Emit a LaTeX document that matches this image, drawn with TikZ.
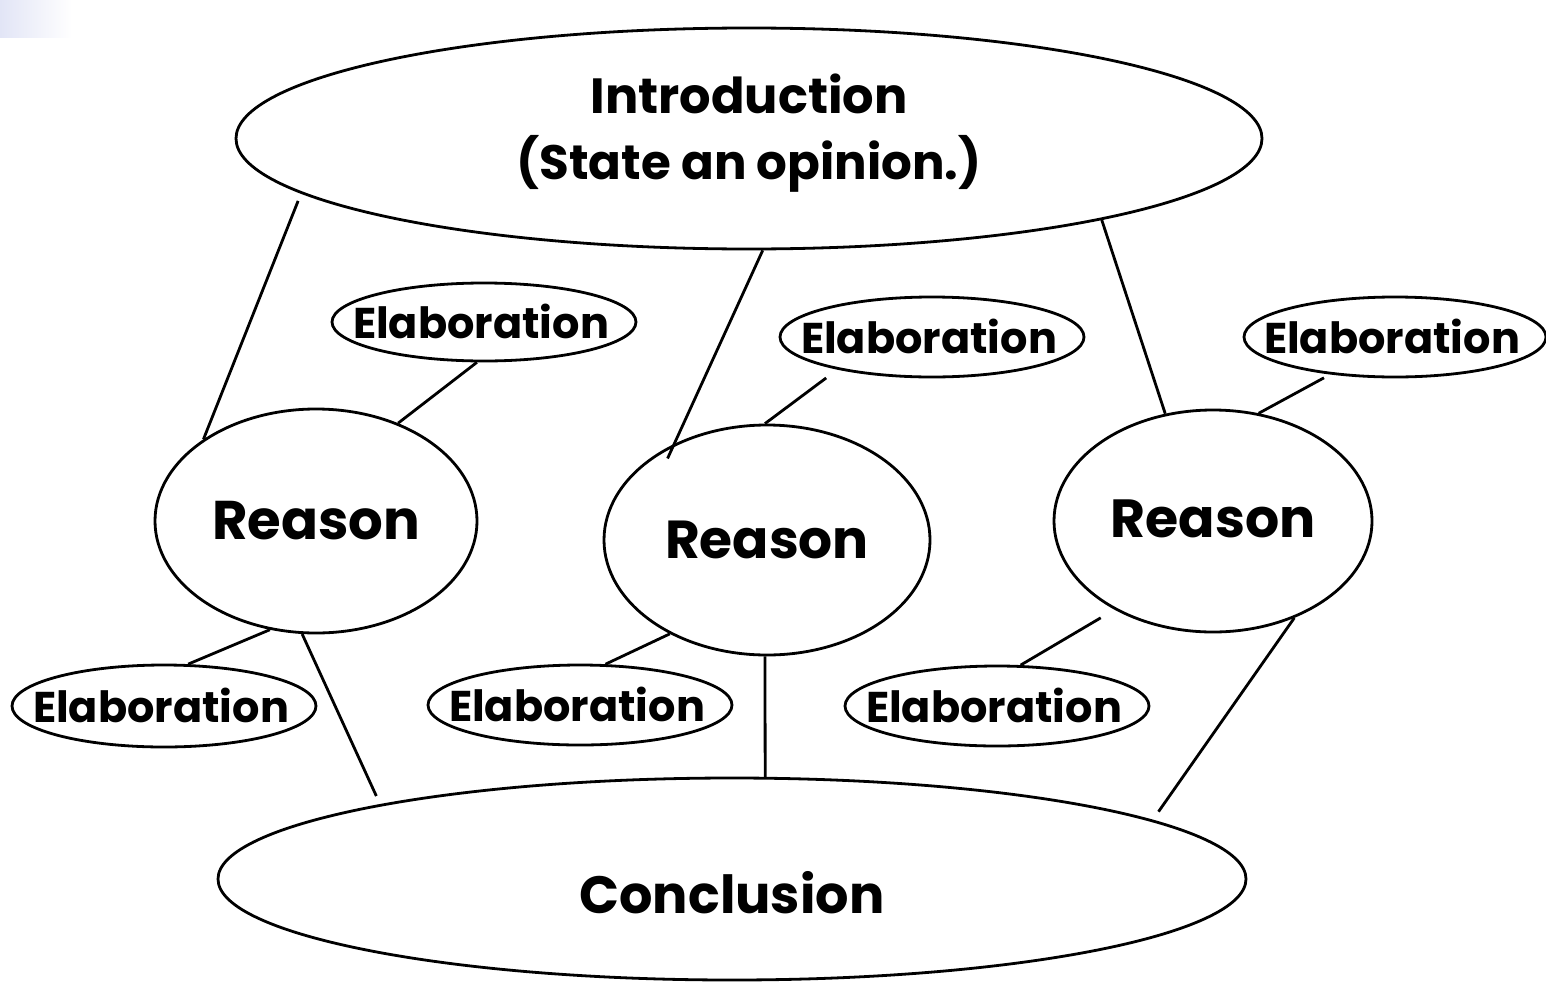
\documentclass[tikz,border=0pt]{standalone}
\usepackage{fontspec}
\setmainfont{Poppins}
\usepackage{graphicx}
\usetikzlibrary{shapes.geometric}

\definecolor{cornertint}{RGB}{226,229,246}

\tikzset{
  oval/.style={ellipse, draw=black, line width=2.8pt, inner sep=0pt, fill=white},
  link/.style={draw=black, line width=2.8pt},
  lbl/.style={inner sep=0pt, font=\bfseries\fontsize{50pt}{66pt}\selectfont, align=center},
}

% fixed-width bold labels
\newcommand{\wlabel}[2]{\resizebox{#1}{!}{\bfseries #2}}

\begin{document}
\begin{tikzpicture}[x=1pt, y=-1pt]
  \useasboundingbox (0,0) rectangle (1546,982);
  \fill[white] (0,0) rectangle (1546,982);
  \shade[left color=cornertint, right color=white] (0,0) rectangle (72,38);

  % main parts of the essay
  \node[oval, minimum width=1026pt, minimum height=221pt] (intro) at (749,138.5) {};
  \node[lbl, anchor=north] (introtext) at (749,74)
    {\wlabel{317pt}{Introduction}\\\wlabel{465pt}{(State an opinion.)}};

  \node[oval, minimum width=1028pt, minimum height=202pt] (con) at (732,879) {};
  \node[lbl] (context) at (732,893) {\wlabel{305pt}{Conclusion}};

  % reasons
  \node[oval, minimum width=322pt, minimum height=224pt] (r1) at (316,521) {};
  \node[oval, minimum width=326pt, minimum height=230pt] (r2) at (767,540) {};
  \node[oval, minimum width=318pt, minimum height=222pt] (r3) at (1213,521) {};
  \node[lbl] (r1t) at (r1) {\wlabel{208pt}{Reason}};
  \node[lbl] (r2t) at (r2) {\wlabel{204pt}{Reason}};
  \node[lbl] (r3t) at ([yshift=2pt]r3.center) {\wlabel{205pt}{Reason}};

  % elaborations
  \node[oval, minimum width=304pt, minimum height=78pt] (e1) at (484,322) {};
  \node[oval, minimum width=304pt, minimum height=80pt] (e2) at (932,337) {};
  \node[oval, minimum width=302pt, minimum height=80pt] (e3) at (1395,337) {};
  \node[oval, minimum width=304pt, minimum height=82pt] (e4) at (164,706) {};
  \node[oval, minimum width=304pt, minimum height=80pt] (e5) at (580,705) {};
  \node[oval, minimum width=304pt, minimum height=80pt] (e6) at (997,706) {};
  \foreach \e in {e1,e2,e3,e4,e5,e6}
    \node[lbl] (\e t) at ([xshift=-3pt,yshift=1pt]\e.center) {\wlabel{256pt}{Elaboration}};

  % introduction to reasons
  \draw[link, shorten <=8pt] (intro.187) -- (r1.144);
  \draw[link, shorten >=-16pt] (intro.277) -- (r2.134);
  \draw[link] (intro.347) -- (r3.114);

  % elaborations above the reasons
  \draw[link] (e1.260) -- (r1.50);
  \draw[link, shorten <=14pt] (e2.199) -- (r2.91);
  \draw[link, shorten <=7pt] (e3.210) -- (r3.67);

  % elaborations below the reasons
  \draw[link] (r1.247) -- (e4.60);
  \draw[link] (r2.224) -- (e5.58);
  \draw[link, shorten <=16pt] (r3.222) -- (e6.60);

  % reasons to conclusion
  \draw[link, shorten >=9pt] (r1.263) -- (con.168);
  \draw[link] (r2.269) -- (con.72);
  \draw[link, shorten >=10pt] (r3.310) -- (con.8);
\end{tikzpicture}
\end{document}
